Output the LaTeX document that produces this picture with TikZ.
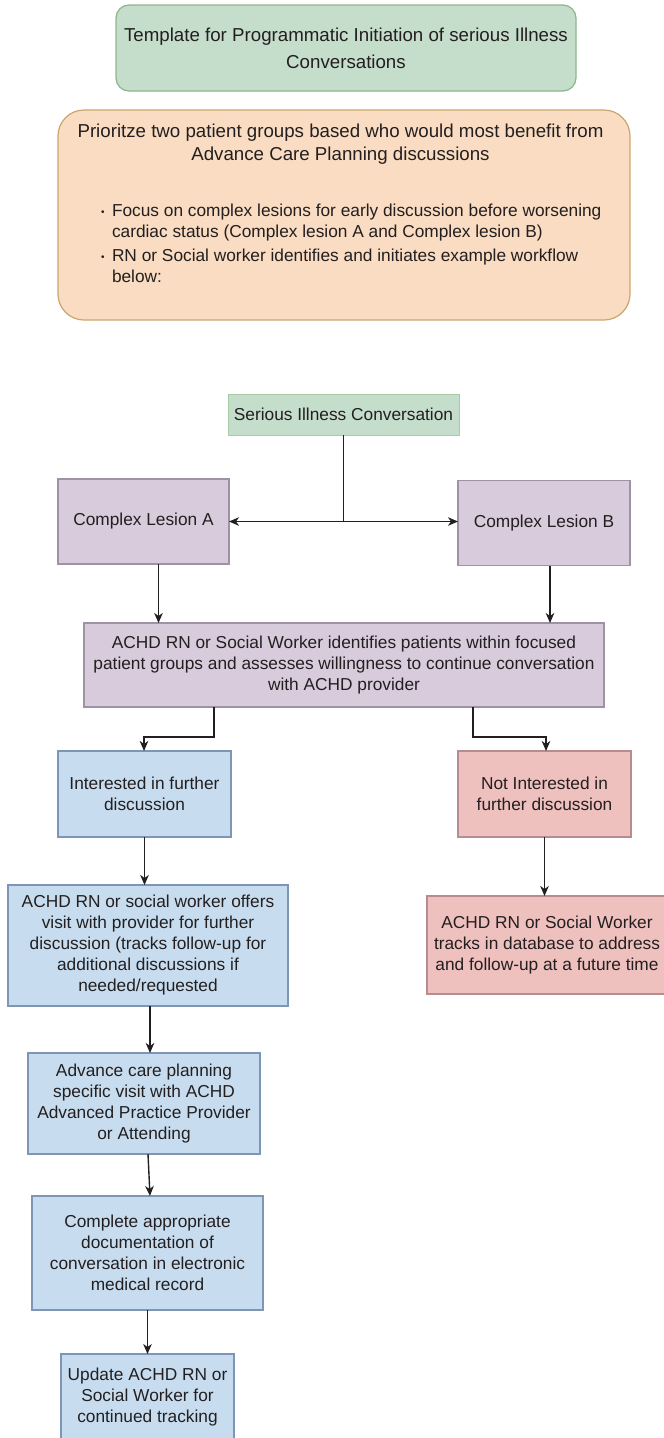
\documentclass[tikz,border=0pt]{standalone}
\usepackage{fontspec}
\setmainfont{Liberation Sans}
\usetikzlibrary{arrows.meta}
\definecolor{ink}{RGB}{35,31,32}
\definecolor{greenfill}{RGB}{197,221,203}
\definecolor{greenline}{RGB}{143,181,143}
\definecolor{greenline2}{RGB}{168,202,165}
\definecolor{orangefill}{RGB}{249,220,193}
\definecolor{orangeline}{RGB}{200,166,110}
\definecolor{purplefill}{RGB}{215,203,220}
\definecolor{purpleline}{RGB}{158,147,166}
\definecolor{bluefill}{RGB}{199,221,239}
\definecolor{blueline}{RGB}{126,150,181}
\definecolor{pinkfill}{RGB}{238,192,190}
\definecolor{pinkline}{RGB}{182,140,142}
\tikzset{
  box/.style={draw, rectangle, line width=1.2pt, inner sep=0pt, outer sep=0pt, align=center, text=ink,
    font=\fontsize{17.3}{21}\selectfont},
  greenbox/.style={box, fill=greenfill, draw=greenline2},
  purplebox/.style={box, fill=purplefill, draw=purpleline},
  bluebox/.style={box, fill=bluefill, draw=blueline},
  pinkbox/.style={box, fill=pinkfill, draw=pinkline},
  arr/.style={draw=ink, line width=1.4pt, -{Stealth[length=10pt,width=8.5pt,inset=3pt]}},
  plain/.style={draw=ink, line width=1.4pt},
  txt/.style={inner sep=0pt, outer sep=0pt, text=ink}
}
\begin{document}
\begin{tikzpicture}[x=1pt,y=-1pt]
\useasboundingbox (0,0) rectangle (664,1438);
\clip (0,0) rectangle (664,1438);
\fill[white] (0,0) rectangle (664,1438);

% title
\node[box, rounded corners=13pt, fill=greenfill, draw=greenline, minimum width=460pt, minimum height=86pt,
  font=\fontsize{18.7}{27}\selectfont] (title) at (346,48)
  {Template for Programmatic Initiation of serious Illness\\Conversations};

% orange box
\node[box, rounded corners=26pt, fill=orangefill, draw=orangeline, minimum width=572pt, minimum height=210pt] (prio) at (344,215) {};
\node[txt, align=center, font=\fontsize{18.7}{23}\selectfont] (prioh) at (340.5,144.5)
  {Prioritze two patient groups based who would most benefit from\\Advance Care Planning discussions};
\node[txt, align=left, anchor=west, font=\fontsize{17.3}{21}\selectfont] (b1) at (101,223)
  {\makebox[11pt][l]{\raisebox{1pt}{\fontsize{10}{10}\selectfont •}}Focus on complex lesions for early discussion before worsening\\\hspace*{11pt}cardiac status (Complex lesion A and Complex lesion B)};
\node[txt, align=left, anchor=west, font=\fontsize{17.3}{21}\selectfont] (b2) at (101,266)
  {\makebox[11pt][l]{\raisebox{1pt}{\fontsize{10}{10}\selectfont •}}RN or Social worker identifies and initiates example workflow\\\hspace*{11pt}below:};

% flow
\node[greenbox, line width=1pt, minimum width=231pt, minimum height=41pt] (ser) at (343.5,414.5) {Serious Illness Conversation};
\node[purplebox, minimum width=171pt, minimum height=85pt] (la) at (143.5,521.5) {Complex Lesion A};
\node[purplebox, minimum width=172pt, minimum height=85pt] (lb) at (544,523) {Complex Lesion B};
\node[purplebox, minimum width=520pt, minimum height=84pt] (achd) at (344,665)
  {ACHD RN or Social Worker identifies patients within focused\\patient groups and assesses willingness to continue conversation\\with ACHD provider};
\node[bluebox, minimum width=173pt, minimum height=86pt] (int) at (144.5,794) {Interested in further\\discussion};
\node[pinkbox, minimum width=173pt, minimum height=86pt] (nint) at (544.5,794) {Not Interested in\\further discussion};
\node[bluebox, minimum width=280pt, minimum height=121pt] (offers) at (148,945.5)
  {ACHD RN or social worker offers\\visit with provider for further\\discussion (tracks follow-up for\\additional discussions if\\needed/requested};
\node[pinkbox, minimum width=240pt, minimum height=98pt] (tracks) at (547,945)
  {ACHD RN or Social Worker\\tracks in database to address\\and follow-up at a future time};
\node[bluebox, minimum width=232pt, minimum height=101pt] (adv) at (144,1103.5)
  {Advance care planning\\specific visit with ACHD\\Advanced Practice Provider\\or Attending};
\node[bluebox, minimum width=231pt, minimum height=114pt] (comp) at (147.5,1253)
  {Complete appropriate\\documentation of\\conversation in electronic\\medical record};
\node[bluebox, minimum width=173pt, minimum height=87pt] (upd) at (147.5,1397.5)
  {Update ACHD RN or\\Social Worker for\\continued tracking};

% connectors
\draw[plain] (ser.south) -- (ser.south |- la.east) coordinate (split);
\draw[arr] (split) -- (la.east);
\draw[arr] (split) -- (split -| lb.west);
\draw[arr] ([xshift=15pt]la.south) -- ([xshift=15pt]la.south |- achd.north);
\draw[arr] ([xshift=6pt]lb.south) -- ([xshift=6pt]lb.south |- achd.north);
\draw[arr] ([xshift=-130pt]achd.south) -- ++(0,30) -| ([xshift=-0.5pt]int.north);
\draw[arr] ([xshift=129pt]achd.south) -- ++(0,30) -| ([xshift=1.5pt]nint.north);
\draw[arr] (int.south) -- (int.south |- offers.north);
\draw[arr] (nint.south) -- (nint.south |- tracks.north);
\draw[arr] ([xshift=2pt]offers.south) -- ([xshift=2pt]offers.south |- adv.north);
\draw[arr] ([xshift=4pt]adv.south) -- ([xshift=2.5pt]comp.north);
\draw[arr] (comp.south) -- (upd.north);
\end{tikzpicture}
\end{document}
